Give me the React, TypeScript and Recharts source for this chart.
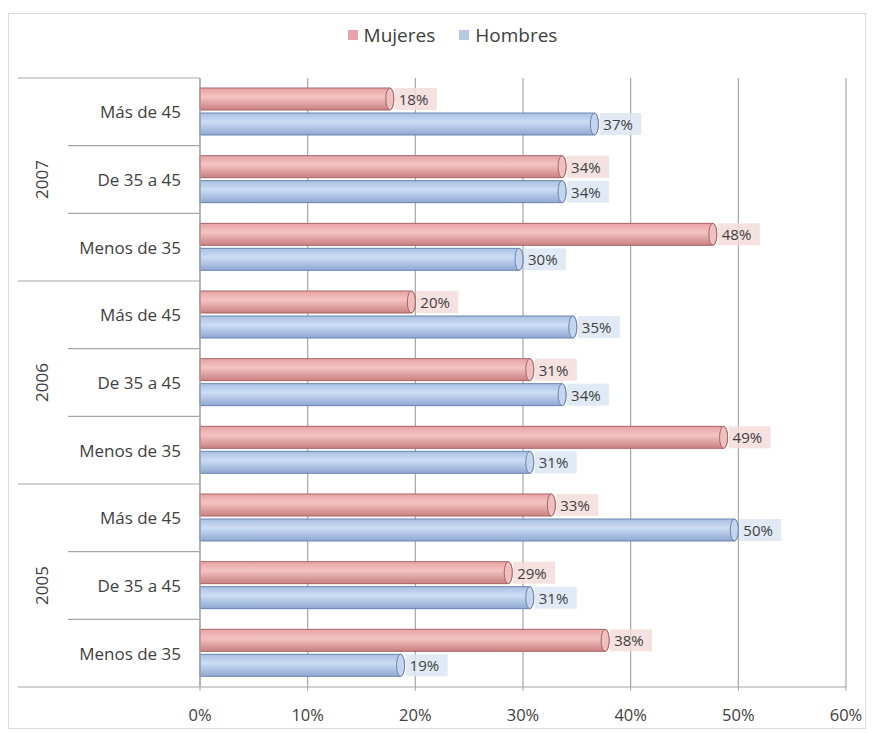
import React from "react";
import { BarChart, Bar, XAxis, YAxis, CartesianGrid, LabelList, Legend } from "recharts";

const years = ["2007", "2007", "2007", "2006", "2006", "2006", "2005", "2005", "2005"];
const ages = ["Más de 45", "De 35 a 45", "Menos de 35", "Más de 45", "De 35 a 45", "Menos de 35", "Más de 45", "De 35 a 45", "Menos de 35"];
const mujeres = [18, 34, 48, 20, 31, 49, 33, 29, 38];
const hombres = [37, 34, 30, 35, 34, 31, 50, 31, 19];
const xTicks = [0, 10, 20, 30, 40, 50, 60];

const data = ages.map((a, i) => ({ key: `${years[i]}-${a}-${i}`, age: a, year: years[i], Mujeres: mujeres[i], Hombres: hombres[i] }));

const FONT = "'Open Sans', 'Noto Sans', sans-serif";
const TEXT = "#404040";
const LINE = "#A6A6A6";

const AgeTick = (props: any) => {
  const { x, y, payload } = props;
  const i: number = payload.index ?? props.index;
  const half: number = payload.offset || 34;
  const row = data[i];
  const lastOfGroup = i === data.length - 1 || data[i + 1].year !== row.year;
  const firstOfGroup = i === 0 || data[i - 1].year !== row.year;
  const groupSize = data.filter((d) => d.year === row.year).length;
  const posInGroup = data.slice(0, i).filter((d) => d.year === row.year).length;
  const isMid = posInGroup === Math.floor(groupSize / 2);
  return (
    <g>
      <text x={x - 19} y={y} textAnchor="end" dominantBaseline="central" fill={TEXT} fontSize={17} fontFamily={FONT}>
        {row.age}
      </text>
      {i === 0 && firstOfGroup && (
        <line x1={18} x2={x} y1={y - half} y2={y - half} stroke={LINE} strokeWidth={1.2} />
      )}
      <line x1={lastOfGroup ? 18 : 68} x2={x} y1={y + half} y2={y + half} stroke={LINE} strokeWidth={1.2} />
      {isMid && (
        <text
          x={41}
          y={y}
          textAnchor="middle"
          dominantBaseline="central"
          transform={`rotate(-90 41 ${y})`}
          fill={TEXT}
          fontSize={17}
          fontFamily={FONT}
        >
          {row.year}
        </text>
      )}
    </g>
  );
};

const makeShape = (grad: string, edge: string, cap: string) => (props: any) => {
  const { x, y, width, height } = props;
  if (!width || width <= 0) return null;
  const rx = 4;
  const ry = height / 2;
  return (
    <g>
      <path
        d={`M${x},${y} L${x + width - rx},${y} A${rx},${ry} 0 0 1 ${x + width - rx},${y + height} L${x},${y + height} Z`}
        fill={`url(#${grad})`}
        stroke={edge}
        strokeWidth={1}
      />
      <ellipse cx={x + width - rx} cy={y + ry} rx={rx} ry={ry} fill={cap} stroke={edge} strokeWidth={1} />
    </g>
  );
};

const makeLabel = (bg: string) => (props: any) => {
  const { x, y, width, height, value } = props;
  const lx = x + width + 1;
  const cy = y + height / 2;
  return (
    <g>
      <rect x={lx} y={cy - 11} width={42} height={22} fill={bg} />
      <text x={lx + 4} y={cy} dominantBaseline="central" fill={TEXT} fontSize={15} fontFamily={FONT}>
        {`${value}%`}
      </text>
    </g>
  );
};

const LegendContent = () => (
  <div style={{ display: "flex", justifyContent: "center", alignItems: "center", fontFamily: FONT, fontSize: 19, color: TEXT, paddingLeft: 30 }}>
    <span style={{ display: "inline-block", width: 10, height: 10, background: "#E6A3A8", marginRight: 6 }} />
    <span style={{ marginRight: 24 }}>Mujeres</span>
    <span style={{ display: "inline-block", width: 10, height: 10, background: "#B7C8E0", marginRight: 6 }} />
    <span>Hombres</span>
  </div>
);

export default function App() {
  return (
    <div style={{ position: "absolute", left: 0, top: 0, width: 875, height: 733, background: "#fff" }}>
      <div style={{ position: "absolute", left: 8, top: 13, width: 858, height: 716, border: "1px solid #D9D9D9", boxSizing: "border-box" }} />
      <BarChart
        width={875}
        height={733}
        data={data}
        layout="vertical"
        margin={{ top: 78, right: 29, bottom: 16, left: 10 }}
        barSize={22}
        barGap={3}
      >
        <defs>
          <linearGradient id="gM" x1="0" y1="0" x2="0" y2="1">
            <stop offset="0%" stopColor="#E7A2A2" />
            <stop offset="40%" stopColor="#F4C4C2" />
            <stop offset="100%" stopColor="#C98080" />
          </linearGradient>
          <linearGradient id="gH" x1="0" y1="0" x2="0" y2="1">
            <stop offset="0%" stopColor="#A9C0E2" />
            <stop offset="40%" stopColor="#CCDDF4" />
            <stop offset="100%" stopColor="#8FA8D2" />
          </linearGradient>
        </defs>
        <CartesianGrid horizontal={false} stroke={LINE} strokeWidth={1.2} />
        <XAxis
          type="number"
          domain={[0, 60]}
          ticks={xTicks}
          tickFormatter={(v) => `${v}%`}
          axisLine={{ stroke: LINE, strokeWidth: 1.2 }}
          tickLine={{ stroke: LINE }}
          tickSize={4}
          tickMargin={18}
          tick={{ fill: TEXT, fontSize: 16.5, fontFamily: FONT }}
          interval={0}
        />
        <YAxis
          type="category"
          dataKey="key"
          width={190}
          tickSize={0}
          tickMargin={0}
          tickLine={false}
          axisLine={{ stroke: LINE, strokeWidth: 1.2 }}
          tick={<AgeTick />}
          interval={0}
        />
        <Legend verticalAlign="middle" layout="horizontal" align="center" wrapperStyle={{ top: 22, left: 0, width: 875 }} content={<LegendContent />} />
        <Bar dataKey="Mujeres" fill="#E6A3A8" isAnimationActive={false} shape={makeShape("gM", "#A86468", "#F0C0BE")}>
          <LabelList dataKey="Mujeres" content={makeLabel("rgba(242,220,219,0.85)")} />
        </Bar>
        <Bar dataKey="Hombres" fill="#B7C8E0" isAnimationActive={false} shape={makeShape("gH", "#6A84B0", "#C4D6EE")}>
          <LabelList dataKey="Hombres" content={makeLabel("rgba(220,230,242,0.85)")} />
        </Bar>
      </BarChart>
    </div>
  );
}
